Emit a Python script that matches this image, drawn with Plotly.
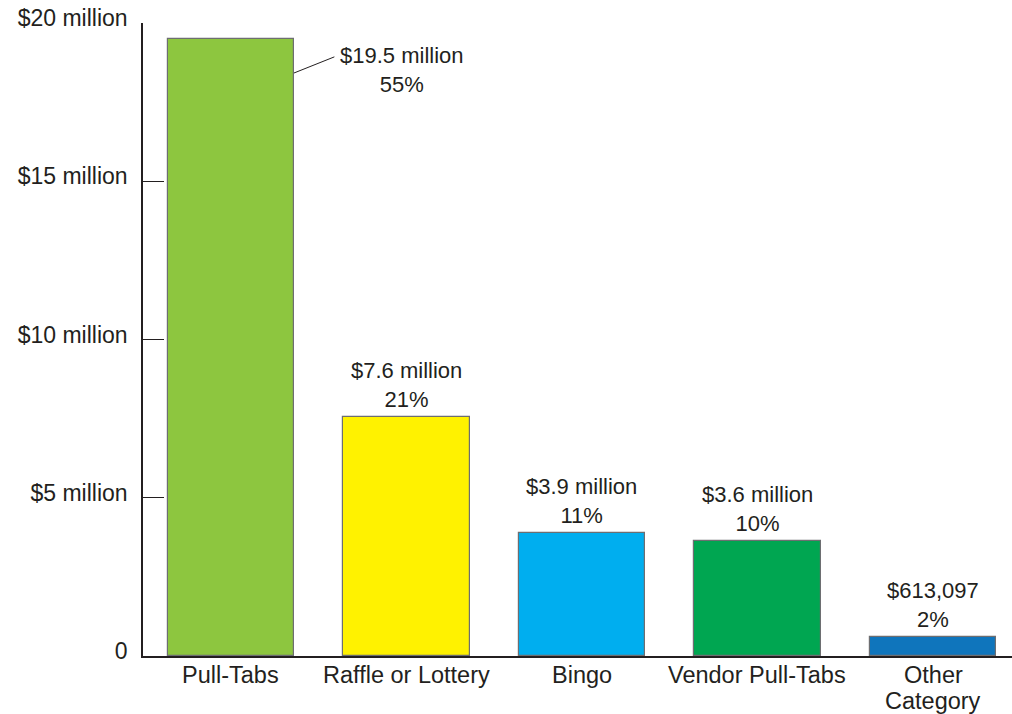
import plotly.graph_objects as go

categories = ["Pull-Tabs", "Raffle or Lottery", "Bingo", "Vendor Pull-Tabs", "Other Category"]
category_lines = [["Pull-Tabs"], ["Raffle or Lottery"], ["Bingo"], ["Vendor Pull-Tabs"], ["Other", "Category"]]
values_millions = [19.5, 7.56, 3.9, 3.63, 0.613097]
value_labels = ["$19.5 million", "$7.6 million", "$3.9 million", "$3.6 million", "$613,097"]
percent_labels = ["55%", "21%", "11%", "10%", "2%"]
colors = ["#8DC63F", "#FFF200", "#00AEEF", "#00A651", "#0F75BC"]
ytick_vals = [0, 5, 10, 15, 20]
ytick_text = ["0", "$5 million", "$10 million", "$15 million", "$20 million"]

FONT = "Liberation Sans, Arial, sans-serif"
TXT = "#231F20"
BARW = 0.72
x_idx = list(range(len(categories)))

fig = go.Figure()
fig.add_trace(go.Bar(
    x=x_idx, y=values_millions, width=BARW,
    marker=dict(color=colors, line=dict(color="#6D6E71", width=1.2)),
    hoverinfo="skip",
))

for i, (v, vl, pl) in enumerate(zip(values_millions, value_labels, percent_labels)):
    if i == 0:
        fig.add_annotation(x=i, y=v, xref="x", yref="y", text=vl + "<br>" + pl,
                           showarrow=False, xanchor="center", yanchor="middle",
                           xshift=171, yshift=-31, font=dict(family=FONT, size=22, color=TXT))
    else:
        fig.add_annotation(x=i, y=v, xref="x", yref="y", text=vl + "<br>" + pl,
                           showarrow=False, xanchor="center", yanchor="bottom",
                           yshift=3, font=dict(family=FONT, size=22, color=TXT))

# category labels (one text per line, tighter line spacing as in the reference)
for i, lines in enumerate(category_lines):
    for k, line in enumerate(lines):
        fig.add_annotation(x=i, y=0, xref="x", yref="paper", text=line,
                           showarrow=False, xanchor="center", yanchor="middle",
                           yshift=-19 - 26 * k, font=dict(family=FONT, size=23.5, color=TXT))

# leader line for first label
fig.add_shape(type="line", xref="x", yref="y",
              x0=0 + BARW / 2, y0=values_millions[0] - 1.08,
              x1=0 + BARW / 2 + 0.23, y1=values_millions[0] - 0.57,
              line=dict(color="#231F20", width=1))

fig.update_layout(
    width=1012, height=714,
    margin=dict(l=143, r=0, t=23, b=58, autoexpand=False),
    paper_bgcolor="white", plot_bgcolor="white",
    showlegend=False, bargap=0,
    font=dict(family=FONT, size=22, color=TXT),
)
fig.update_xaxes(
    range=[-0.5, 4.45], tickvals=x_idx, showticklabels=False,
    showgrid=False, zeroline=False, showline=True, linecolor="#231F20", linewidth=1.5,
    ticks="", fixedrange=True, automargin=False,
)
fig.update_yaxes(
    range=[0, 20], tickvals=ytick_vals, ticktext=ytick_text,
    showgrid=False, zeroline=False, showline=True, linecolor="#231F20", linewidth=1.5,
    ticks="inside", ticklen=21, tickcolor="#231F20", tickwidth=1,
    ticklabelstandoff=9, ticklabelshift=-5, ticklabeloverflow="allow",
    tickfont=dict(family=FONT, size=23, color=TXT), fixedrange=True,
    automargin=False,
)

fig.write_html(
    "out.html",
    config={"displayModeBar": False},
    post_script="document.body.style.margin='0';document.body.style.overflow='hidden';",
)
